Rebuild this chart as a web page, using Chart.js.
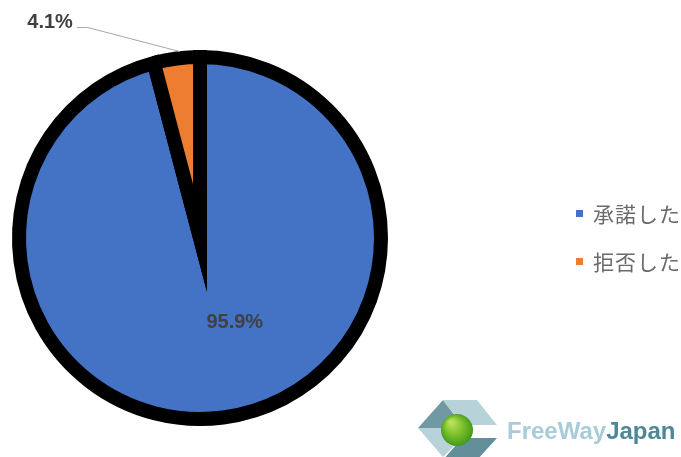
<!DOCTYPE html>
<html>
<head>
<meta charset="utf-8">
<script src="https://cdn.jsdelivr.net/npm/chart.js@4/dist/chart.umd.min.js"></script>
<style>
  html, body { margin: 0; padding: 0; background: #fff; }
  #wrap { width: 681px; height: 457px; position: relative; }
</style>
</head>
<body>
<div id="wrap"><canvas id="myChart" width="681" height="457"></canvas></div>
<script>
// data
var labels = ["承諾した", "拒否した"];
var values = [95.9, 4.1];
var valueLabels = ["95.9%", "4.1%"];
var colors = ["#4472C4", "#ED7D31"];

// percentage labels (inside for the big slice, leader line for the small one)
var sliceLabels = {
  id: 'sliceLabels',
  afterDatasetsDraw: function(chart) {
    var ctx = chart.ctx;
    var arcs = chart.getDatasetMeta(0).data;
    ctx.save();
    ctx.font = "bold 20px 'Liberation Sans', Arial, sans-serif";
    ctx.fillStyle = "#404040";
    ctx.textBaseline = "middle";

    // big slice
    var a = arcs[0];
    var mid = (a.startAngle + a.endAngle) / 2 - 15.2 * Math.PI / 180;
    var r = a.outerRadius * 0.5;
    ctx.textAlign = "center";
    ctx.fillText(valueLabels[0], a.x + Math.cos(mid) * r, a.y + Math.sin(mid) * r + 1);

    // small slice with leader line
    var b = arcs[1];
    var mid2 = (b.startAngle + b.endAngle) / 2;
    var edge = b.outerRadius + 7;
    var px = b.x + Math.cos(mid2) * edge + 4;
    var py = b.y + Math.sin(mid2) * edge;
    var ex = px - 92, ey = py - 24;
    ctx.strokeStyle = "#a6a6a6";
    ctx.lineWidth = 1;
    ctx.beginPath();
    ctx.moveTo(px, py);
    ctx.lineTo(ex, ey);
    ctx.lineTo(ex - 11, ey);
    ctx.stroke();
    ctx.textAlign = "right";
    ctx.fillText(valueLabels[1], ex - 15, ey - 5);
    ctx.restore();
  }
};

// legend on the right (runs off the edge like the original)
var sideLegend = {
  id: 'sideLegend',
  afterDraw: function(chart) {
    var ctx = chart.ctx;
    ctx.save();
    ctx.font = "21px 'Noto Sans CJK JP', sans-serif";
    ctx.letterSpacing = "1px";
    ctx.textBaseline = "middle";
    ctx.textAlign = "left";
    for (var i = 0; i < labels.length; i++) {
      var y = 214 + i * 48;
      ctx.fillStyle = colors[i];
      ctx.fillRect(576, y - 4, 7, 7);
      ctx.fillStyle = "#6a6a6a";
      ctx.fillText(labels[i], 593, y);
    }
    ctx.restore();
  }
};

// FreeWayJapan logo, bottom right
var logo = {
  id: 'logo',
  afterDraw: function(chart) {
    var ctx = chart.ctx;
    function poly(pts, fill) {
      ctx.beginPath();
      ctx.moveTo(pts[0][0], pts[0][1]);
      for (var i = 1; i < pts.length; i++) ctx.lineTo(pts[i][0], pts[i][1]);
      ctx.closePath();
      ctx.fillStyle = fill;
      ctx.fill();
    }
    ctx.save();
    poly([[418, 428], [443, 400], [462, 425], [446, 428]], "#7199a4");
    poly([[443, 400], [477, 400], [497, 425], [462, 425]], "#b7d2d9");
    poly([[418, 428], [446, 428], [462, 438], [443, 457]], "#b7d2d9");
    poly([[462, 438], [497, 438], [477, 460], [443, 460]], "#628f9a");
    var g = ctx.createRadialGradient(451, 422, 2, 457, 430, 17);
    g.addColorStop(0, "#b8e05a");
    g.addColorStop(0.5, "#78bf2a");
    g.addColorStop(1, "#3f9618");
    ctx.fillStyle = g;
    ctx.beginPath();
    ctx.arc(457, 430, 16, 0, Math.PI * 2);
    ctx.fill();
    ctx.font = "bold 24px 'Liberation Sans', Arial, sans-serif";
    ctx.textBaseline = "alphabetic";
    ctx.textAlign = "left";
    ctx.fillStyle = "#a9cdd8";
    ctx.fillText("FreeWay", 507, 439);
    var w = ctx.measureText("FreeWay").width;
    ctx.fillStyle = "#4e8797";
    ctx.fillText("Japan", 507 + w, 439);
    ctx.restore();
  }
};

var ctx = document.getElementById('myChart').getContext('2d');
var chart = new Chart(ctx, {
  type: 'pie',
  data: {
    labels: labels,
    datasets: [{
      data: values,
      backgroundColor: colors,
      borderColor: "#000000",
      borderWidth: 14,
      borderJoinStyle: 'miter',
      hoverOffset: 0
    }]
  },
  options: {
    responsive: false,
    animation: false,
    layout: { padding: { left: 12, right: 293, top: 50, bottom: 31 } },
    plugins: {
      legend: { display: false },
      tooltip: { enabled: false }
    }
  },
  plugins: [sliceLabels, sideLegend, logo]
});
</script>
</body>
</html>
